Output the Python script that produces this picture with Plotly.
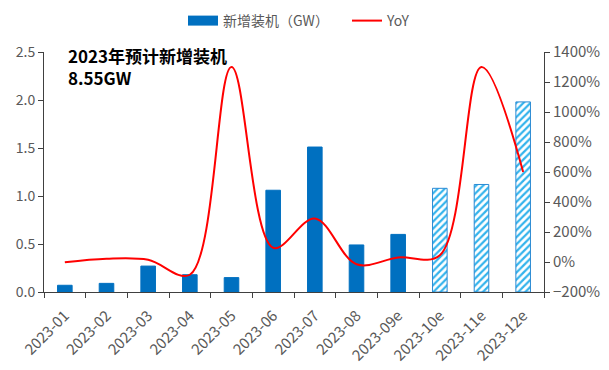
import plotly.graph_objects as go

categories = ["2023-01", "2023-02", "2023-03", "2023-04", "2023-05", "2023-06",
              "2023-07", "2023-08", "2023-09e", "2023-10e", "2023-11e", "2023-12e"]
installs_gw = [0.07, 0.09, 0.27, 0.18, 0.15, 1.06, 1.51, 0.49, 0.60, 1.08, 1.12, 1.98]
yoy_pct = [-2, 22, 15, -85, 1300, 95, 290, -15, 30, 45, 1300, 600]
hatched = ["2023-10e", "2023-11e", "2023-12e"]

is_hatched = [c in hatched for c in categories]

FONT = "Noto Sans CJK SC"
GRAY = "#595959"
BLUE = "#0070C0"
HATCH = "#33B3EC"
AX = "#404040"

# page body has an 8px default margin: figure is sized to fill the rest
W, H = 601, 362

fig = go.Figure()

fig.add_trace(go.Bar(
    x=categories, y=installs_gw, name="新增装机（GW）", showlegend=False,
    width=0.35,
    marker=dict(
        color=[(HATCH if h else BLUE) for h in is_hatched],
        line=dict(color=[("#2A8AD4" if h else BLUE) for h in is_hatched], width=1),
        pattern=dict(shape=[("/" if h else "") for h in is_hatched],
                     fgcolor=[(HATCH if h else BLUE) for h in is_hatched],
                     bgcolor="white", size=5, solidity=0.45,
                     fillmode="replace"),
    ),
    yaxis="y",
))

# legend-only entry for bars (wide rectangle like the reference)
fig.add_trace(go.Scatter(
    x=[None], y=[None], mode="lines", name="新增装机（GW）",
    line=dict(color=BLUE, width=10), yaxis="y",
))

fig.add_trace(go.Scatter(
    x=categories, y=yoy_pct, mode="lines", name="YoY",
    line=dict(color="#FF0000", width=2, shape="spline", smoothing=1),
    yaxis="y2",
))

fig.update_layout(
    width=W, height=H,
    margin=dict(l=36, r=65, t=44, b=78, autoexpand=False),
    paper_bgcolor="white", plot_bgcolor="white",
    font=dict(family=FONT, size=14, color=GRAY),
    showlegend=True,
    legend=dict(orientation="h", xref="container", yref="container",
                x=175 / W, xanchor="left", y=1 - 13 / H, yanchor="middle",
                font=dict(size=14, color=GRAY), itemwidth=30,
                entrywidth=119, entrywidthmode="pixels",
                bgcolor="rgba(0,0,0,0)"),
    xaxis=dict(type="category", tickangle=-45, showline=True, linecolor=AX,
               ticks="outside", ticklen=5, tickcolor=AX, tickson="boundaries",
               ticklabelstandoff=8,
               showgrid=False, automargin=False, tickfont=dict(size=15, color=GRAY)),
    yaxis=dict(range=[0, 2.5], dtick=0.5, tickformat=".1f", showline=True,
               linecolor=AX, ticks="outside", ticklen=5, tickcolor=AX,
               showgrid=False, zeroline=False, automargin=False,
               tickfont=dict(size=14, color=GRAY)),
    yaxis2=dict(range=[-200, 1400], dtick=200, ticksuffix="%", overlaying="y",
                side="right", showline=True, linecolor=AX, ticks="outside",
                ticklen=5, tickcolor=AX, showgrid=False, zeroline=False,
                automargin=False, tickfont=dict(size=15, color=GRAY)),
)

fig.add_annotation(
    xref="paper", yref="paper", x=(66 - 44) / 500, y=1.047,
    xanchor="left", yanchor="top",
    text="<b>2023年预计新增装机<br>8.55GW</b>", showarrow=False, align="left",
    font=dict(family=FONT, size=17, color="black"),
)

fig.write_html("out.html")
